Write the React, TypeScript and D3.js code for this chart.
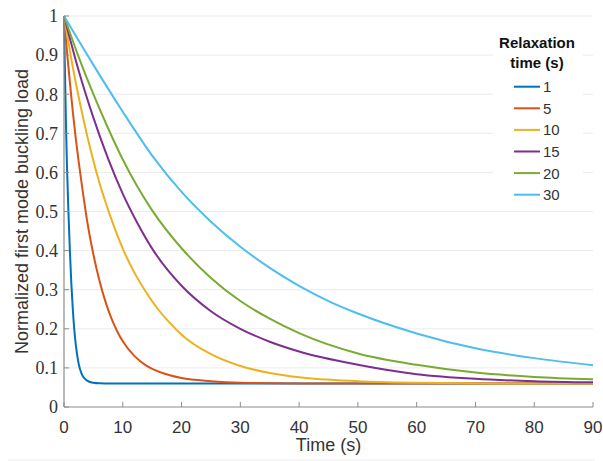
import React from 'react';
import * as d3 from 'd3';

// relaxation times in legend order
const labels = ['1', '5', '10', '15', '20', '30'];
const colors = ['#0072BD', '#D95319', '#EDB120', '#7E2F8E', '#77AC30', '#4DBEEE'];

// values (time in s, normalized load)
const t1 = [0, 0.1, 0.2, 0.35, 0.5, 0.75, 1.0, 1.25, 1.5, 1.75, 2, 2.5, 3, 3.5, 4, 5, 6, 8, 90];
const v1 = [1, 0.91, 0.83, 0.715, 0.62, 0.5, 0.4, 0.315, 0.25, 0.198, 0.16, 0.11, 0.085, 0.073, 0.067, 0.062, 0.0605, 0.06, 0.06];

const t5 = [0, 0.5, 1, 1.5, 2, 2.5, 3, 4, 5, 6, 7, 8, 9, 10, 12, 14, 16, 18, 20, 25, 30, 40, 90];
const v5 = [1, 0.91, 0.83, 0.755, 0.687, 0.627, 0.572, 0.47, 0.39, 0.325, 0.272, 0.229, 0.195, 0.168, 0.13, 0.106, 0.091, 0.081, 0.074, 0.066, 0.062, 0.06, 0.06];

const t10 = [0, 1, 2, 3, 4, 5, 6, 7, 8, 10, 12, 14, 16, 18, 20, 25, 30, 35, 40, 50, 60, 75, 90];
const v10 = [1, 0.91, 0.83, 0.757, 0.69, 0.63, 0.575, 0.527, 0.483, 0.405, 0.343, 0.293, 0.25, 0.215, 0.185, 0.135, 0.105, 0.087, 0.076, 0.066, 0.062, 0.06, 0.06];

const t15 = [0, 2.5, 5, 7.5, 10, 12.5, 15, 20, 25, 30, 35, 40, 50, 60, 70, 80, 90];
const v15 = [1, 0.86, 0.74, 0.635, 0.545, 0.47, 0.405, 0.31, 0.245, 0.2, 0.167, 0.142, 0.108, 0.084, 0.072, 0.066, 0.063];

const t20 = [0, 2.5, 5, 7.5, 10, 12.5, 15, 20, 25, 30, 35, 40, 50, 60, 70, 80, 90];
const v20 = [1, 0.895, 0.8, 0.713, 0.633, 0.563, 0.503, 0.406, 0.33, 0.271, 0.226, 0.189, 0.137, 0.108, 0.088, 0.077, 0.071];

const t30 = [0, 5, 10, 15, 20, 25, 30, 35, 40, 45, 50, 60, 70, 80, 90];
const v30 = [1, 0.875, 0.755, 0.643, 0.55, 0.474, 0.41, 0.356, 0.31, 0.271, 0.239, 0.188, 0.15, 0.125, 0.107];

const times = [t1, t5, t10, t15, t20, t30];
const values = [v1, v5, v10, v15, v20, v30];

const xTicks = [0, 10, 20, 30, 40, 50, 60, 70, 80, 90];
const yTicks = [0, 0.1, 0.2, 0.3, 0.4, 0.5, 0.6, 0.7, 0.8, 0.9, 1];

const W = 603;
const H = 461;
const margin = { top: 16, right: 10, bottom: 54, left: 64 };

const App = () => {
  const x = d3.scaleLinear().domain([0, 90]).range([margin.left, W - margin.right]);
  const y = d3.scaleLinear().domain([0, 1]).range([H - margin.bottom, margin.top]);

  const line = d3
    .line<[number, number]>()
    .x(d => x(d[0]))
    .y(d => y(d[1]))
    .curve(d3.curveMonotoneX);

  const sans = "'Liberation Sans', Arial, sans-serif";
  const serif = "'Times New Roman', Times, 'Liberation Serif', 'DejaVu Serif', serif";
  const axisColor = '#8c8c8c';
  const textColor = '#333';

  return (
    <svg width={W} height={H} style={{ position: 'absolute', left: 0, top: 0, background: '#fff' }}>
      {/* grid */}
      {yTicks.slice(1).map(t => (
        <line key={'g' + t} x1={x(0)} x2={x(90)} y1={y(t)} y2={y(t)} stroke="#ebebeb" strokeWidth={1} />
      ))}

      {/* curves */}
      {times.map((ts, i) => (
        <path
          key={labels[i]}
          d={line(ts.map((t, j) => [t, values[i][j]] as [number, number])) || ''}
          fill="none"
          stroke={colors[i]}
          strokeWidth={2}
        />
      ))}

      {/* axes */}
      <line x1={x(0)} x2={x(90)} y1={y(0)} y2={y(0)} stroke={axisColor} strokeWidth={1.2} />
      <line x1={x(0)} x2={x(0)} y1={y(0)} y2={y(1)} stroke={axisColor} strokeWidth={1.2} />
      {xTicks.map(t => (
        <g key={'x' + t}>
          <line x1={x(t)} x2={x(t)} y1={y(0)} y2={y(0) - 5} stroke={axisColor} strokeWidth={1} />
          <text x={x(t)} y={y(0) + 26} textAnchor="middle" style={{ fontFamily: sans, fontSize: 17 }} fill={textColor}>
            {t}
          </text>
        </g>
      ))}
      {yTicks.map(t => (
        <g key={'y' + t}>
          <line x1={x(0)} x2={x(0) + 5} y1={y(t)} y2={y(t)} stroke={axisColor} strokeWidth={1} />
          <text
            x={x(0) - 6}
            y={y(t)}
            dy="0.35em"
            textAnchor="end"
            fontFamily={serif}
            style={{ fontFamily: serif, fontSize: 18 }}
            fill={textColor}
          >
            {d3.format('~g')(t)}
          </text>
        </g>
      ))}

      {/* axis titles */}
      <text x={x(45)} y={451} textAnchor="middle" style={{ fontFamily: sans, fontSize: 18 }} fill={textColor}>
        Time (s)
      </text>
      <text
        transform={`translate(28,${(y(0) + y(1)) / 2}) rotate(-90)`}
        textAnchor="middle"
        style={{ fontFamily: sans, fontSize: 18 }}
        fill={textColor}
      >
        Normalized first mode buckling load
      </text>

      {/* legend */}
      <rect x={493} y={28} width={90} height={178} fill="#fff" />
      <text x={537} y={48} textAnchor="middle" style={{ fontFamily: sans, fontSize: 15, fontWeight: 'bold' }} fill="#111">
        Relaxation
      </text>
      <text x={537} y={68} textAnchor="middle" style={{ fontFamily: sans, fontSize: 15, fontWeight: 'bold' }} fill="#111">
        time (s)
      </text>
      {labels.map((l, i) => {
        const ly = 86.7 + i * 21.6;
        return (
          <g key={'l' + l}>
            <line x1={514} x2={540} y1={ly} y2={ly} stroke={colors[i]} strokeWidth={2} />
            <text x={543} y={ly} dy="0.36em" style={{ fontFamily: sans, fontSize: 15 }} fill={textColor}>
              {l}
            </text>
          </g>
        );
      })}

      <line x1={8} x2={595} y1={460} y2={460} stroke="#eeeeee" strokeWidth={1} />
    </svg>
  );
};

export default App;
